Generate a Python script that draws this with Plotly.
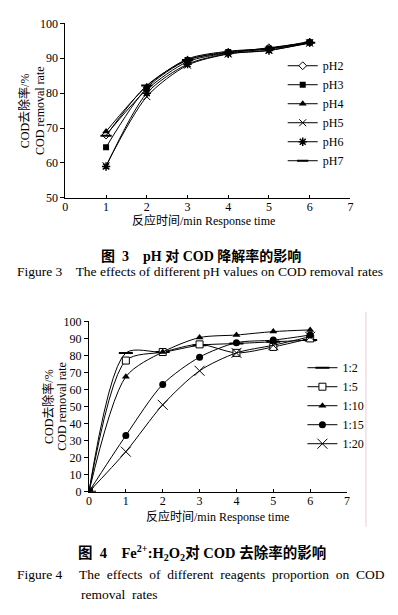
import plotly.graph_objects as go

# ---------------- data ----------------
time1 = [1, 2, 3, 4, 5, 6]
ph_names = ["pH2", "pH3", "pH4", "pH5", "pH6", "pH7"]
ph2 = [68.0, 81.0, 89.0, 91.5, 93.0, 94.5]
ph3 = [64.5, 81.5, 89.5, 91.8, 92.8, 94.6]
ph4 = [69.0, 82.0, 89.8, 92.0, 92.8, 94.8]
ph5 = [59.2, 79.0, 88.0, 91.2, 92.3, 94.3]
ph6 = [59.0, 80.0, 88.3, 91.3, 92.2, 94.5]
ph7 = [67.8, 82.2, 89.5, 91.6, 92.6, 94.4]

time2 = [0, 1, 2, 3, 4, 5, 6]
ratio_names = ["1:2", "1:5", "1:10", "1:15", "1:20"]
r_1_2 = [0, 81.5, 82.0, 86.0, 87.0, 88.0, 89.0]
r_1_5 = [0, 77.0, 82.0, 86.5, 81.5, 85.0, 90.0]
r_1_10 = [0, 67.5, 82.0, 90.5, 92.0, 94.0, 95.0]
r_1_15 = [0, 33.0, 63.0, 79.0, 87.5, 89.0, 92.0]
r_1_20 = [0, 23.5, 51.0, 71.0, 81.5, 86.0, 91.0]

x_ticks = [0, 1, 2, 3, 4, 5, 6, 7]
y1_ticks = [50, 60, 70, 80, 90, 100]
y2_ticks = [0, 10, 20, 30, 40, 50, 60, 70, 80, 90, 100]

# ---------------- styles ----------------
SERIF = "Liberation Serif, Times New Roman, Noto Sans CJK SC, serif"
BLACK = "black"

ph_series = [ph2, ph3, ph4, ph5, ph6, ph7]
ph_markers = [
    dict(symbol="diamond", size=6, color="white", line=dict(color=BLACK, width=1)),
    dict(symbol="square", size=6, color=BLACK, line=dict(color=BLACK, width=0)),
    dict(symbol="triangle-up", size=7, color=BLACK, line=dict(color=BLACK, width=0)),
    dict(symbol="x-thin", size=7, color=BLACK, line=dict(color=BLACK, width=1)),
    dict(symbol="asterisk", size=7, color=BLACK, line=dict(color=BLACK, width=1.5)),
    dict(symbol="line-ew", size=8, color=BLACK, line=dict(color=BLACK, width=2)),
]

r_series = [r_1_2, r_1_5, r_1_10, r_1_15, r_1_20]
r_markers = [
    dict(symbol="line-ew", size=10, color=BLACK, line=dict(color=BLACK, width=2)),
    dict(symbol="square", size=7, color="white", line=dict(color=BLACK, width=1)),
    dict(symbol="triangle-up", size=7, color=BLACK, line=dict(color=BLACK, width=0)),
    dict(symbol="circle", size=7, color=BLACK, line=dict(color=BLACK, width=0)),
    dict(symbol="x-thin", size=10, color=BLACK, line=dict(color=BLACK, width=1)),
]

fig = go.Figure()

for name, ys, mk in zip(ph_names, ph_series, ph_markers):
    fig.add_trace(go.Scatter(
        x=time1, y=ys, name=name, mode="lines+markers",
        line=dict(color=BLACK, width=1, shape="spline", smoothing=0.8),
        marker=mk, xaxis="x", yaxis="y", legend="legend",
    ))

for name, ys, mk in zip(ratio_names, r_series, r_markers):
    fig.add_trace(go.Scatter(
        x=time2, y=ys, name=name, mode="lines+markers",
        line=dict(color=BLACK, width=1, shape="spline", smoothing=0.8),
        marker=mk, xaxis="x2", yaxis="y2", legend="legend2",
    ))

W, H = 398, 615

def px_x(p):
    return p / W

def px_y(p):
    return 1 - p / H

axis_common = dict(
    showline=True, linecolor=BLACK, linewidth=1,
    tickcolor=BLACK, showgrid=False, zeroline=False,
    tickfont=dict(family=SERIF, size=12, color=BLACK), mirror=False,
)
x_style = dict(ticks="inside", ticklen=3, ticklabelstandoff=-2, **axis_common)
y_style = dict(ticks="outside", ticklen=4, **axis_common)

fig.update_layout(
    width=W, height=H,
    margin=dict(l=0, r=0, t=0, b=0),
    paper_bgcolor="white", plot_bgcolor="white",
    font=dict(family=SERIF, size=12, color=BLACK),
    xaxis=dict(domain=[px_x(63.3), px_x(352.7)], range=[0, 7],
               tickvals=x_ticks, anchor="y", **x_style),
    yaxis=dict(domain=[px_y(195.3), px_y(16.7)], range=[50, 100],
               tickvals=y1_ticks, anchor="x", **y_style),
    xaxis2=dict(domain=[px_x(87.3), px_x(349.3)], range=[0, 7],
                tickvals=x_ticks, anchor="y2", **x_style),
    yaxis2=dict(domain=[px_y(496), px_y(321.7)], range=[0, 100],
                tickvals=y2_ticks, anchor="x2", **y_style),
    legend=dict(x=px_x(284), y=px_y(108.7), xanchor="left", yanchor="middle",
                bgcolor="rgba(0,0,0,0)", font=dict(family=SERIF, size=12),
                tracegroupgap=0),
    legend2=dict(x=px_x(304), y=px_y(408), xanchor="left", yanchor="middle",
                 bgcolor="rgba(0,0,0,0)", font=dict(family=SERIF, size=12),
                 tracegroupgap=0),
    showlegend=True,
)

annotations = [
    # chart 1 axis titles
    dict(x=px_x(22), y=px_y(106), text="COD去除率/%", textangle=-90),
    dict(x=px_x(37), y=px_y(106), text="COD removal rate", textangle=-90),
    dict(x=px_x(204), y=px_y(218.5), text="反应时间/min Response time"),
    # chart 2 axis titles
    dict(x=px_x(46), y=px_y(409), text="COD去除率/%", textangle=-90),
    dict(x=px_x(60), y=px_y(409), text="COD removal rate", textangle=-90),
    dict(x=px_x(218), y=px_y(521), text="反应时间/min Response time"),
]
for a in annotations:
    a.update(xref="paper", yref="paper", showarrow=False,
             xanchor="center", yanchor="middle",
             font=dict(family=SERIF, size=12, color=BLACK))

captions = [
    dict(x=px_x(201), y=px_y(255), xanchor="center",
         text="<b>图  3    pH 对 COD 降解率的影响</b>", size=14),
    dict(x=px_x(12), y=px_y(271), xanchor="left",
         text="Figure 3    The effects of different pH values on COD removal rates", size=13.5),
    dict(x=px_x(202), y=px_y(559), xanchor="center",
         text="<b>图  4    Fe<sup>2+</sup>:H<sub>2</sub>O<sub>2</sub>对 COD 去除率的影响</b>", size=14.5),
    dict(x=px_x(12), y=px_y(581), xanchor="left",
         text="Figure 4     The  effects  of  different  reagents  proportion  on  COD", size=13.5),
    dict(x=px_x(77), y=px_y(601), xanchor="left",
         text="removal  rates", size=13.5),
]
for c in captions:
    annotations.append(dict(
        x=c["x"], y=c["y"], xref="paper", yref="paper", showarrow=False,
        xanchor=c["xanchor"], yanchor="middle", text=c["text"],
        font=dict(family=SERIF, size=c["size"], color=BLACK),
    ))

fig.update_layout(annotations=annotations)

# page border line (pink) at right of figure 4
fig.add_shape(type="line", xref="paper", yref="paper",
              x0=px_x(368.5), x1=px_x(368.5), y0=px_y(312), y1=px_y(532),
              line=dict(color="#efc9d3", width=1))

fig.write_html("out.html", config={"displayModeBar": False},
               post_script="document.body.style.margin='0';")
